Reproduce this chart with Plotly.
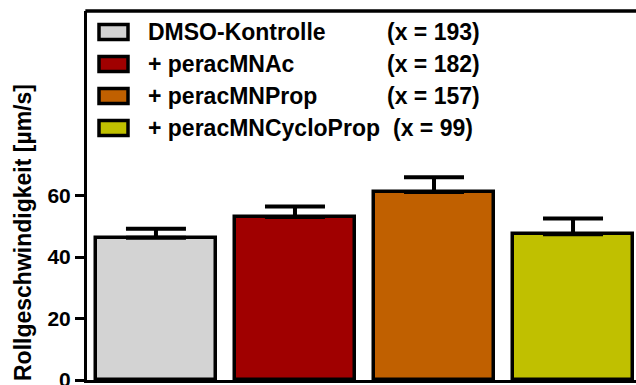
import plotly.graph_objects as go

categories = ["DMSO-Kontrolle", "+ peracMNAc", "+ peracMNProp", "+ peracMNCycloProp"]
counts = ["(x = 193)", "(x = 182)", "(x = 157)", "(x = 99)"]
values = [46.3, 53.0, 61.1, 47.4]
errors = [2.9, 3.4, 4.8, 5.1]
colors = ["#d3d3d3", "#a00000", "#c06000", "#c0c000"]
y_ticks = [0, 20, 40, 60]

W, H = 636, 385
L, R, T, B = 87, 0, 11, 5
pw = W - L - R
ph = H - T - B
FONT = "Liberation Sans, Arial, sans-serif"


def px_x(p):
    return (p - L) / pw


def px_y(p):
    return (H - B - p) / ph


fig = go.Figure()
fig.add_trace(go.Bar(
    x=list(range(len(categories))),
    y=values,
    width=0.865,
    marker=dict(color=colors, line=dict(color="black", width=3.5)),
    error_y=dict(type="data", symmetric=False, array=errors,
                 arrayminus=[0] * len(errors), color="black",
                 thickness=4, width=30),
    showlegend=False,
))

shapes = [dict(type="line", xref="paper", yref="paper", x0=-0.003, x1=1.01, y0=1, y1=1,
               line=dict(color="black", width=3.5), layer="above")]
annotations = []
row_y = [32, 64, 96, 128]
count_x = [387, 387, 387, 393]
for i, (cat, cnt, col) in enumerate(zip(categories, counts, colors)):
    cy = row_y[i]
    shapes.append(dict(type="rect", xref="paper", yref="paper",
                       x0=px_x(99), x1=px_x(128), y0=px_y(cy - 7.5), y1=px_y(cy + 7.5),
                       fillcolor=col, line=dict(color="black", width=3.5)))
    annotations.append(dict(xref="paper", yref="paper", x=px_x(146), y=px_y(cy),
                            xanchor="left", yanchor="middle", showarrow=False,
                            text=cat, font=dict(family=FONT, size=23, color="black", weight="bold")))
    annotations.append(dict(xref="paper", yref="paper", x=px_x(count_x[i] - 2), y=px_y(cy),
                            xanchor="left", yanchor="middle", showarrow=False,
                            text=cnt, font=dict(family=FONT, size=23, color="black", weight="bold")))

annotations.append(dict(xref="paper", yref="paper", x=px_x(23), y=px_y(233),
                        xanchor="center", yanchor="middle", showarrow=False, textangle=-90,
                        text="Rollgeschwindigkeit [µm/s]",
                        font=dict(family=FONT, size=23, color="black", weight="bold")))

fig.update_layout(
    width=W, height=H,
    margin=dict(l=L, r=R, t=T, b=B, pad=0, autoexpand=False),
    paper_bgcolor="white", plot_bgcolor="white",
    font=dict(family=FONT, color="black", weight="bold"),
    shapes=shapes, annotations=annotations,
    bargap=0,
)
fig.update_xaxes(range=[-0.496, 3.453], showgrid=False, zeroline=False, automargin=False,
                 showticklabels=False, ticks="", showline=True,
                 linecolor="black", linewidth=3)
fig.update_yaxes(range=[0, 120], tickvals=y_ticks, showgrid=False, zeroline=False,
                 automargin=False,
                 ticks="outside", ticklen=9, tickwidth=3, tickcolor="black",
                 showline=True, linecolor="black", linewidth=3,
                 ticklabeloverflow="allow",
                 tickfont=dict(family=FONT, size=21, color="black", weight="bold"))

fig.write_html("out.html", config={"displayModeBar": False},
               post_script="document.body.style.margin='0';document.body.style.overflow='hidden';")
